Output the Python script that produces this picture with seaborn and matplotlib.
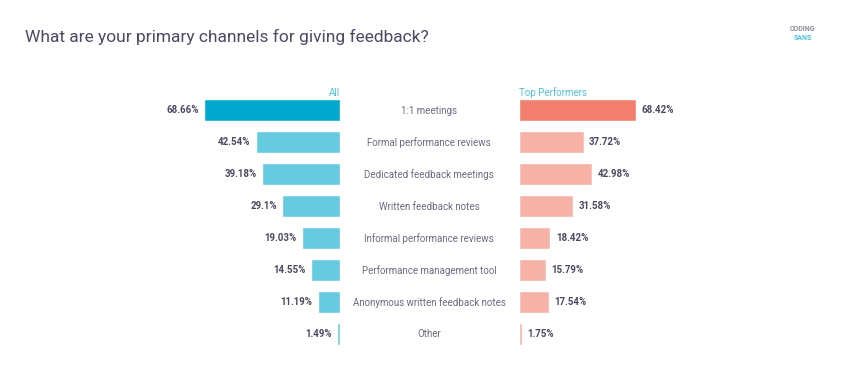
import matplotlib
matplotlib.use("Agg")
import matplotlib.pyplot as plt
import pandas as pd
import seaborn as sns

# data
channels = [
    "1:1 meetings",
    "Formal performance reviews",
    "Dedicated feedback meetings",
    "Written feedback notes",
    "Informal performance reviews",
    "Performance management tool",
    "Anonymous written feedback notes",
    "Other",
]
all_pct = [68.66, 42.54, 39.18, 29.1, 19.03, 14.55, 11.19, 1.49]
top_pct = [68.42, 37.72, 42.98, 31.58, 18.42, 15.79, 17.54, 1.75]

df = pd.DataFrame({"channel": channels, "all": all_pct, "top": top_pct})

sns.set_style("white")
plt.rcParams["font.family"] = ["Roboto", "DejaVu Sans"]

blue_pal = ["#01A9CE"] + ["#66CAE0"] * 7
red_pal = ["#F27F6E"] + ["#F7B2A8"] * 7
val_color = "#4a4a60"
lab_color = "#6a6a80"
head_color = "#4EC1DC"

W, H = 842, 380
fig = plt.figure(figsize=(W / 100, H / 100), dpi=100)

top_px, bot_px = 94, 350
ax_b = 1 - bot_px / H
ax_h = (bot_px - top_px) / H

# left axes: 160 -> 340 px
axl = fig.add_axes([160 / W, ax_b, 180 / W, ax_h])
sns.barplot(data=df, x="all", y="channel", hue="channel", palette=blue_pal,
            legend=False, width=0.7, ax=axl, saturation=1)
axl.set_xlim(180 / 1.98, 0)

# right axes: 519 -> 700 px
axr = fig.add_axes([519 / W, ax_b, 181 / W, ax_h])
sns.barplot(data=df, x="top", y="channel", hue="channel", palette=red_pal,
            legend=False, width=0.7, ax=axr, saturation=1)
axr.set_xlim(0, 181 / 1.71)

for ax in (axl, axr):
    ax.set_ylim(7.5, -0.5)
    ax.axis("off")

for i, v in enumerate(all_pct):
    axl.annotate(f"{v:g}%", (v, i), xytext=(-4, 0), textcoords="offset points",
                 ha="right", va="center", fontsize=7, color=val_color,
                 fontweight="bold")
for i, v in enumerate(top_pct):
    axr.annotate(f"{v:g}%", (v, i), xytext=(4, 0), textcoords="offset points",
                 ha="left", va="center", fontsize=7, color=val_color,
                 fontweight="bold")

# category labels in the middle
for i, c in enumerate(channels):
    y = 1 - (111 + i * 31.9) / H
    fig.text(429 / W, y, c, ha="center", va="center", fontsize=7,
             color=lab_color)

fig.text(340 / W, 1 - 93 / H, "All", ha="right", va="center", fontsize=7,
         color=head_color)
fig.text(519 / W, 1 - 93 / H, "Top Performers", ha="left", va="center",
         fontsize=7, color=head_color)

fig.text(25 / W, 1 - 37 / H, "What are your primary channels for giving feedback?",
         ha="left", va="center", fontsize=12.5, color="#4a4a66")

fig.text(803 / W, 1 - 29 / H, "CODING", ha="center", va="center", fontsize=5,
         color="#8a8a9a", fontweight="bold")
fig.text(803 / W, 1 - 38 / H, "SANS", ha="center", va="center", fontsize=5,
         color="#4EC1DC", fontweight="bold")

fig.savefig("out.png", dpi=100, facecolor="white")
